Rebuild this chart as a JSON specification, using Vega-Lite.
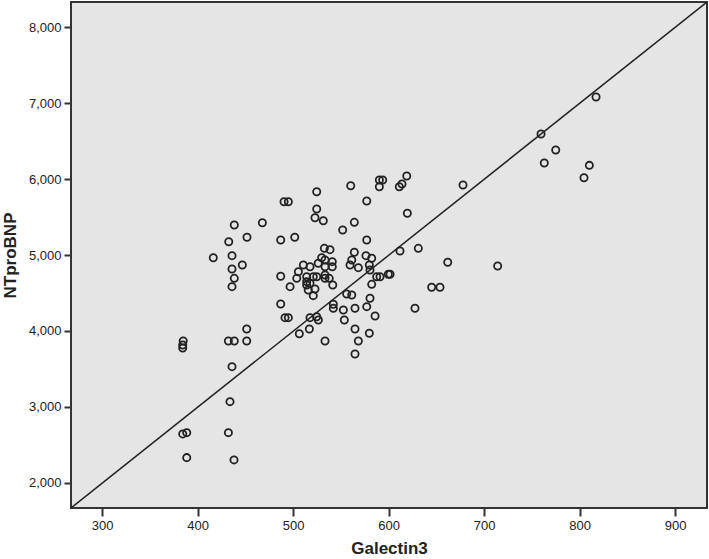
{
  "$schema": "https://vega.github.io/schema/vega-lite/v6.json",
  "width": 636,
  "height": 506,
  "autosize": "none",
  "padding": {"left": 71, "top": 2, "right": 2, "bottom": 51},
  "background": "white",
  "config": {
    "font": "Liberation Sans",
    "view": {"fill": "#e5e5e5", "stroke": "#333333", "strokeWidth": 2},
    "axis": {
      "grid": false,
      "domain": false,
      "tickColor": "#333333",
      "tickWidth": 2,
      "labelFontSize": 13,
      "labelColor": "#222222",
      "labelFont": "Liberation Sans",
      "titleFont": "Liberation Sans",
      "titleFontSize": 17,
      "titleFontWeight": "bold",
      "titleColor": "#222222"
    }
  },
  "layer": [
    {
      "data": {
        "values": [
          {"Galectin3": 385, "NTproBNP": 3868},
          {"Galectin3": 384.5, "NTproBNP": 3816},
          {"Galectin3": 384.5, "NTproBNP": 3776},
          {"Galectin3": 432.3, "NTproBNP": 3868},
          {"Galectin3": 438.5, "NTproBNP": 3868},
          {"Galectin3": 451.5, "NTproBNP": 4026},
          {"Galectin3": 451.5, "NTproBNP": 3868},
          {"Galectin3": 533.5, "NTproBNP": 3868},
          {"Galectin3": 568.4, "NTproBNP": 3868},
          {"Galectin3": 564.9, "NTproBNP": 3697},
          {"Galectin3": 436.1, "NTproBNP": 3530},
          {"Galectin3": 434.0, "NTproBNP": 3070},
          {"Galectin3": 384.5, "NTproBNP": 2645},
          {"Galectin3": 388.7, "NTproBNP": 2662},
          {"Galectin3": 432.3, "NTproBNP": 2662},
          {"Galectin3": 388.7, "NTproBNP": 2333},
          {"Galectin3": 438.2, "NTproBNP": 2303},
          {"Galectin3": 438.5, "NTproBNP": 5395},
          {"Galectin3": 467.9, "NTproBNP": 5425},
          {"Galectin3": 523.0, "NTproBNP": 5491},
          {"Galectin3": 531.7, "NTproBNP": 5451},
          {"Galectin3": 564.2, "NTproBNP": 5430},
          {"Galectin3": 552.0, "NTproBNP": 5329},
          {"Galectin3": 577.2, "NTproBNP": 5197},
          {"Galectin3": 432.7, "NTproBNP": 5175},
          {"Galectin3": 451.8, "NTproBNP": 5233},
          {"Galectin3": 487.1, "NTproBNP": 5197},
          {"Galectin3": 501.8, "NTproBNP": 5233},
          {"Galectin3": 416.5, "NTproBNP": 4964},
          {"Galectin3": 436.1, "NTproBNP": 4991},
          {"Galectin3": 446.9, "NTproBNP": 4868},
          {"Galectin3": 436.1, "NTproBNP": 4816},
          {"Galectin3": 438.5, "NTproBNP": 4693},
          {"Galectin3": 436.1, "NTproBNP": 4583},
          {"Galectin3": 487.1, "NTproBNP": 4720},
          {"Galectin3": 496.9, "NTproBNP": 4583},
          {"Galectin3": 532.8, "NTproBNP": 5088},
          {"Galectin3": 538.7, "NTproBNP": 5070},
          {"Galectin3": 564.2, "NTproBNP": 5036},
          {"Galectin3": 576.4, "NTproBNP": 4991},
          {"Galectin3": 582.4, "NTproBNP": 4957},
          {"Galectin3": 561.5, "NTproBNP": 4934},
          {"Galectin3": 559.7, "NTproBNP": 4868},
          {"Galectin3": 568.4, "NTproBNP": 4833},
          {"Galectin3": 579.9, "NTproBNP": 4868},
          {"Galectin3": 580.6, "NTproBNP": 4803},
          {"Galectin3": 530.0, "NTproBNP": 4964},
          {"Galectin3": 533.5, "NTproBNP": 4934},
          {"Galectin3": 526.4, "NTproBNP": 4891},
          {"Galectin3": 541.1, "NTproBNP": 4912},
          {"Galectin3": 541.1, "NTproBNP": 4846},
          {"Galectin3": 533.5, "NTproBNP": 4846},
          {"Galectin3": 510.8, "NTproBNP": 4868},
          {"Galectin3": 517.8, "NTproBNP": 4846},
          {"Galectin3": 505.6, "NTproBNP": 4780},
          {"Galectin3": 503.9, "NTproBNP": 4693},
          {"Galectin3": 514.3, "NTproBNP": 4714},
          {"Galectin3": 521.2, "NTproBNP": 4714},
          {"Galectin3": 524.8, "NTproBNP": 4714},
          {"Galectin3": 533.5, "NTproBNP": 4737},
          {"Galectin3": 533.5, "NTproBNP": 4693},
          {"Galectin3": 537.9, "NTproBNP": 4693},
          {"Galectin3": 514.3, "NTproBNP": 4649},
          {"Galectin3": 517.8, "NTproBNP": 4628},
          {"Galectin3": 514.3, "NTproBNP": 4605},
          {"Galectin3": 541.6, "NTproBNP": 4605},
          {"Galectin3": 515.9, "NTproBNP": 4539},
          {"Galectin3": 523.0, "NTproBNP": 4553},
          {"Galectin3": 521.2, "NTproBNP": 4465},
          {"Galectin3": 582.4, "NTproBNP": 4614},
          {"Galectin3": 556.2, "NTproBNP": 4487},
          {"Galectin3": 561.5, "NTproBNP": 4474},
          {"Galectin3": 580.6, "NTproBNP": 4430},
          {"Galectin3": 487.1, "NTproBNP": 4355},
          {"Galectin3": 491.6, "NTproBNP": 4175},
          {"Galectin3": 495.1, "NTproBNP": 4175},
          {"Galectin3": 517.8, "NTproBNP": 4175},
          {"Galectin3": 524.8, "NTproBNP": 4188},
          {"Galectin3": 526.5, "NTproBNP": 4145},
          {"Galectin3": 542.2, "NTproBNP": 4351},
          {"Galectin3": 542.2, "NTproBNP": 4299},
          {"Galectin3": 552.7, "NTproBNP": 4276},
          {"Galectin3": 564.9, "NTproBNP": 4299},
          {"Galectin3": 577.2, "NTproBNP": 4320},
          {"Galectin3": 553.7, "NTproBNP": 4145},
          {"Galectin3": 517.1, "NTproBNP": 4026},
          {"Galectin3": 506.6, "NTproBNP": 3964},
          {"Galectin3": 564.9, "NTproBNP": 4026},
          {"Galectin3": 579.9, "NTproBNP": 3970},
          {"Galectin3": 585.9, "NTproBNP": 4197},
          {"Galectin3": 490.6, "NTproBNP": 5701},
          {"Galectin3": 495.1, "NTproBNP": 5701},
          {"Galectin3": 524.8, "NTproBNP": 5833},
          {"Galectin3": 560.4, "NTproBNP": 5912},
          {"Galectin3": 577.2, "NTproBNP": 5711},
          {"Galectin3": 524.8, "NTproBNP": 5605},
          {"Galectin3": 590.4, "NTproBNP": 5987},
          {"Galectin3": 593.9, "NTproBNP": 5987},
          {"Galectin3": 590.4, "NTproBNP": 5899},
          {"Galectin3": 619.1, "NTproBNP": 6039},
          {"Galectin3": 611.3, "NTproBNP": 5899},
          {"Galectin3": 614.1, "NTproBNP": 5934},
          {"Galectin3": 619.7, "NTproBNP": 5549},
          {"Galectin3": 612.0, "NTproBNP": 5053},
          {"Galectin3": 631.2, "NTproBNP": 5088},
          {"Galectin3": 662.0, "NTproBNP": 4904},
          {"Galectin3": 714.3, "NTproBNP": 4855},
          {"Galectin3": 587.6, "NTproBNP": 4714},
          {"Galectin3": 591.1, "NTproBNP": 4714},
          {"Galectin3": 599.8, "NTproBNP": 4746},
          {"Galectin3": 601.6, "NTproBNP": 4746},
          {"Galectin3": 645.2, "NTproBNP": 4575},
          {"Galectin3": 653.9, "NTproBNP": 4575},
          {"Galectin3": 627.7, "NTproBNP": 4299},
          {"Galectin3": 678.0, "NTproBNP": 5921},
          {"Galectin3": 775.1, "NTproBNP": 6382},
          {"Galectin3": 763.1, "NTproBNP": 6211},
          {"Galectin3": 810.3, "NTproBNP": 6180},
          {"Galectin3": 804.7, "NTproBNP": 6017},
          {"Galectin3": 759.7, "NTproBNP": 6592},
          {"Galectin3": 817.3, "NTproBNP": 7079}
        ]
      },
      "mark": {"type": "point", "filled": false, "size": 52, "strokeWidth": 1.8, "color": "#222222", "opacity": 1},
      "encoding": {
        "x": {
          "field": "Galectin3", "type": "quantitative", "title": "Galectin3",
          "scale": {"domain": [267.5, 933.5], "nice": false, "zero": false},
          "axis": {"values": [300, 400, 500, 600, 700, 800, 900], "tickSize": 8, "labelPadding": 3, "titlePadding": 8}
        },
        "y": {
          "field": "NTproBNP", "type": "quantitative", "title": "NTproBNP",
          "scale": {"domain": [1670, 8330], "nice": false, "zero": false},
          "axis": {"values": [2000, 3000, 4000, 5000, 6000, 7000, 8000], "format": ",.0f", "tickSize": 7, "labelPadding": 3, "titlePadding": 9}
        }
      }
    },
    {
      "data": {"values": [{"Galectin3": 267.5, "NTproBNP": 1670}, {"Galectin3": 933.5, "NTproBNP": 8330}]},
      "mark": {"type": "line", "color": "#222222", "strokeWidth": 1.5, "clip": true},
      "encoding": {
        "x": {"field": "Galectin3", "type": "quantitative"},
        "y": {"field": "NTproBNP", "type": "quantitative"}
      }
    }
  ]
}
